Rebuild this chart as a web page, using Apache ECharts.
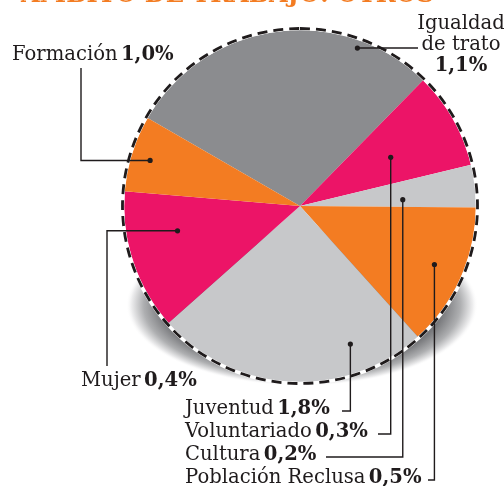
<!DOCTYPE html>
<html><head><meta charset="utf-8">
<script src="https://cdn.jsdelivr.net/npm/echarts@6/dist/echarts.min.js"></script>
<style>html,body{margin:0;padding:0;background:#fff}#c{width:504px;height:486px}</style>
</head><body><div id="c"></div>
<script>
// ---- data ----
const chartTitle = 'ÁMBITO DE TRABAJO: OTROS';
const categories = ['Igualdad de trato', 'Voluntariado', 'Cultura', 'Población Reclusa', 'Juventud', 'Mujer', 'Formación'];
// share of the circle each slice occupies as drawn (percent of 360°)
const sliceShares = [29.0, 8.9, 3.9, 13.2, 25.1, 12.9, 7.0];
// percentages printed in the labels
const labelValues = ['1,1%', '0,3%', '0,2%', '0,5%', '1,8%', '0,4%', '1,0%'];

// ---- styles / layout ----
const sliceColors = ['#8b8c8f', '#ec1467', '#c7c8ca', '#f37c22', '#c7c8ca', '#ec1467', '#f37c22'];
const CX = 300, CY = 206, R = 176, START = 150;
const INK = '#1f1b1c';
const FONT = 'DejaVu Serif';
// where the leader dot sits inside each slice: fraction of sweep, fraction of radius
const anchorT = [0.766, 0.542, 0.714, 0.485, 0.243, 0.65, 0.48];
const anchorF = [0.955, 0.585, 0.585, 0.833, 0.835, 0.71, 0.89];

const total = sliceShares.reduce((a, b) => a + b, 0);
const anchors = [];
let ang = START;
sliceShares.forEach((v, i) => {
  const sweep = v / total * 360;
  const mid = (ang - anchorT[i] * sweep) * Math.PI / 180;
  anchors.push([CX + R * anchorF[i] * Math.cos(mid), CY - R * anchorF[i] * Math.sin(mid)]);
  ang -= sweep;
});

const labelPlace = [
  { x: 461, y: 45, align: 'center', route: a => [a, [418, a[1]]] },
  { x: 185, y: 432, align: 'left', route: a => [a, [a[0], 434], [378, 434]] },
  { x: 185, y: 455, align: 'left', route: a => [a, [a[0], 457], [326, 457]] },
  { x: 185, y: 478, align: 'left', route: a => [a, [a[0], 480], [428, 480]] },
  { x: 185, y: 409, align: 'left', route: a => [a, [a[0], 411], [342, 411]] },
  { x: 81, y: 381, align: 'left', route: a => [a, [107, a[1]], [107, 366]] },
  { x: 12, y: 55, align: 'left', route: a => [a, [81, a[1]], [81, 68]] }
];

const pieData = categories.map((c, i) => ({
  name: c,
  value: sliceShares[i],
  itemStyle: { color: sliceColors[i] },
  label: {
    formatter: i === 0 ? '{n|Igualdad}\n{n|de trato}\n{v|' + labelValues[i] + '}'
                       : '{n|' + c + '} {v|' + labelValues[i] + '}'
  }
}));

const leaderLines = anchors.map((a, i) => ({
  type: 'polyline', z: 100, silent: true,
  shape: { points: labelPlace[i].route(a) },
  style: { stroke: INK, lineWidth: 1.4, fill: null }
}));
const leaderDots = anchors.map(a => ({
  type: 'circle', x: a[0], y: a[1], z: 101, silent: true,
  shape: { cx: 0, cy: 0, r: 2.6 }, style: { fill: INK }
}));

const chart = echarts.init(document.getElementById('c'), null, { renderer: 'canvas' });
chart.setOption({
  animation: false,
  backgroundColor: '#ffffff',
  title: {
    text: chartTitle, left: 16, top: -21,
    textStyle: { fontFamily: FONT, fontWeight: 'bold', fontSize: 24, color: '#f37c22' }
  },
  graphic: [
    {
      type: 'circle', x: 302, y: 305, scaleY: 0.46, silent: true, z: -1,
      shape: { cx: 0, cy: 0, r: 176 },
      style: {
        fill: {
          type: 'radial', x: 0.5, y: 0.5, r: 0.5,
          colorStops: [
            { offset: 0, color: '#6a6b6e' },
            { offset: 0.8, color: '#77787b' },
            { offset: 0.9, color: '#aeafb1' },
            { offset: 0.97, color: '#eeeeef' },
            { offset: 1, color: 'rgba(255,255,255,0)' }
          ]
        }
      }
    }
  ].concat(leaderLines, leaderDots),
  series: [
    {
      type: 'pie', center: [CX, CY], radius: R, startAngle: START, clockwise: true,
      avoidLabelOverlap: false, silent: true, z: 2,
      itemStyle: { borderWidth: 0 },
      data: pieData,
      label: {
        show: true, position: 'outside',
        rich: {
          n: { fontFamily: FONT, fontSize: 19.6, color: INK, lineHeight: 21 },
          v: { fontFamily: FONT, fontSize: 19.6, color: INK, fontWeight: 'bold', lineHeight: 21 }
        }
      },
      labelLine: { show: false },
      labelLayout: function (p) {
        const L = labelPlace[p.dataIndex];
        return { x: L.x, y: L.y, align: L.align, verticalAlign: 'middle' };
      }
    },
    {
      type: 'pie', center: [CX, CY], radius: R + 1.5, silent: true, z: 3,
      label: { show: false }, labelLine: { show: false },
      itemStyle: { color: 'rgba(0,0,0,0)', borderColor: '#ffffff', borderWidth: 3.5 },
      data: [{ value: 1, name: 'halo' }]
    },
    {
      type: 'pie', center: [CX, CY], radius: R + 1.5, silent: true, z: 4,
      label: { show: false }, labelLine: { show: false },
      itemStyle: { color: 'rgba(0,0,0,0)', borderColor: INK, borderWidth: 2.8, borderType: [10, 6] },
      data: [{ value: 1, name: 'border' }]
    }
  ]
});
</script>
</body></html>
